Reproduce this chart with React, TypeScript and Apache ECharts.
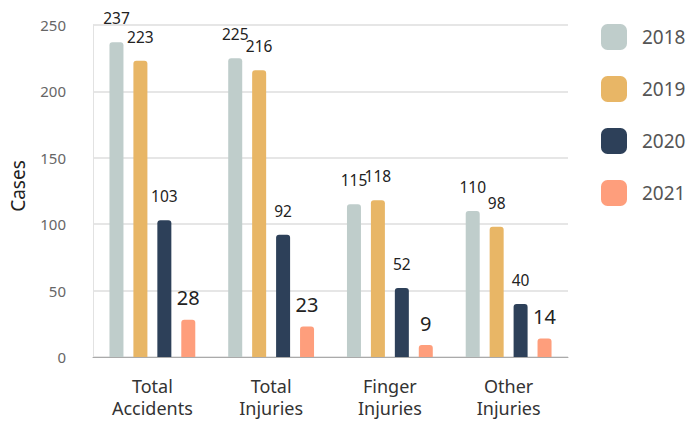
import React, { useEffect, useRef } from "react";
import * as echarts from "echarts";

const categories = ["Total\nAccidents", "Total\nInjuries", "Finger\nInjuries", "Other\nInjuries"];
const years = ["2018", "2019", "2020", "2021"];
const values2018 = [237, 225, 115, 110];
const values2019 = [223, 216, 118, 98];
const values2020 = [103, 92, 52, 40];
const values2021 = [28, 23, 9, 14];
const colors = ["#bfcdcb", "#e8b666", "#2d4059", "#fe9e7c"];
const yTicks = { min: 0, max: 250, interval: 50 };

const FONT = "'Noto Sans', 'Open Sans', sans-serif";

export default function App() {
  const ref = useRef<HTMLDivElement>(null);

  useEffect(() => {
    document.body.style.margin = "0";
    document.body.style.overflow = "hidden";
    if (!ref.current) return;
    const chart = echarts.init(ref.current, undefined, { renderer: "svg" });
    const seriesData = [values2018, values2019, values2020, values2021];

    chart.setOption({
      animation: false,
      textStyle: { fontFamily: FONT },
      grid: { left: 92, right: 120, top: 25, bottom: 64 },
      legend: {
        orient: "vertical",
        left: 601,
        top: 24,
        padding: 0,
        itemWidth: 26,
        itemHeight: 26,
        itemGap: 26,
        icon: "roundRect",
        data: years,
        textStyle: {
          fontFamily: FONT,
          fontSize: 19,
          color: "#555",
          padding: [0, 0, 0, 10],
        },
      },
      xAxis: {
        type: "category",
        data: categories,
        axisTick: { show: false },
        axisLine: { lineStyle: { color: "#aaa", width: 1 } },
        axisLabel: {
          fontFamily: FONT,
          fontSize: 18,
          color: "#333",
          lineHeight: 22,
          margin: 18,
        },
      },
      yAxis: {
        type: "value",
        min: yTicks.min,
        max: yTicks.max,
        interval: yTicks.interval,
        name: "Cases",
        nameLocation: "middle",
        nameGap: 66,
        nameTextStyle: {
          fontFamily: FONT,
          fontSize: 19,
          color: "#222",
          padding: [0, 0, 0, 10],
        },
        axisLine: { show: true, lineStyle: { color: "#e2e2e2" } },
        axisTick: { show: false },
        splitLine: { lineStyle: { color: "#dedede", width: 1.5 } },
        axisLabel: { fontFamily: FONT, fontSize: 15, color: "#666", margin: 27 },
      },
      series: years.map((y, i) => ({
        name: y,
        type: "bar",
        data: seriesData[i],
        barWidth: 14,
        barGap: "71%",
        barCategoryGap: "28%",
        itemStyle: { color: colors[i], borderRadius: [3, 3, 0, 0] },
        label: {
          show: true,
          position: "top",
          distance: i === 3 ? 12 : 16,
          fontFamily: FONT,
          fontSize: i === 3 ? 20 : 15.5,
          color: "#222",
        },
      })),
    });

    return () => chart.dispose();
  }, []);

  return <div ref={ref} style={{ width: 688, height: 421 }} />;
}
